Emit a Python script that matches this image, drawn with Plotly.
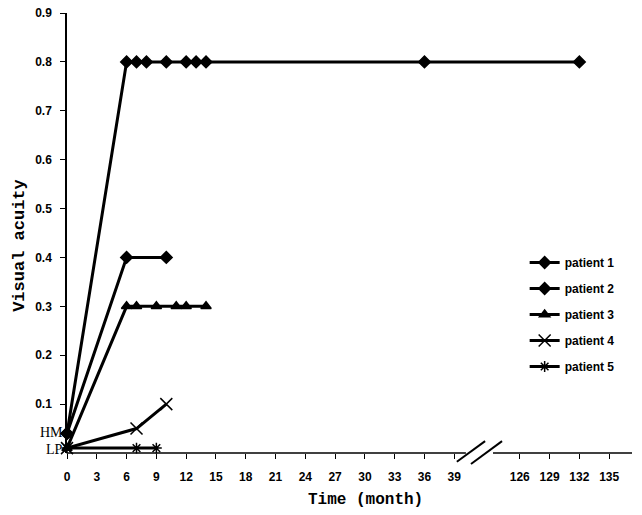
import plotly.graph_objects as go

# visual acuity per patient
# HM (hand motion) and LP (light perception) sit under 0.1 on the y axis
HM = 0.04
LP = 0.01

patients = ["patient 1", "patient 2", "patient 3", "patient 4", "patient 5"]

months_p1 = [0, 6, 7, 8, 10, 12, 13, 14, 36, 132]
va_p1 = [HM, 0.8, 0.8, 0.8, 0.8, 0.8, 0.8, 0.8, 0.8, 0.8]

months_p2 = [0, 6, 10]
va_p2 = [HM, 0.4, 0.4]

months_p3 = [0, 6, 7, 9, 11, 12, 14]
va_p3 = [LP, 0.3, 0.3, 0.3, 0.3, 0.3, 0.3]

months_p4 = [0, 7, 10]
va_p4 = [LP, 0.05, 0.1]

months_p5 = [0, 7, 9]
va_p5 = [LP, LP, LP]

tick_months = [0, 3, 6, 9, 12, 15, 18, 21, 24, 27, 30, 33, 36, 39, 126, 129, 132, 135]
y_ticks = [0.1, 0.2, 0.3, 0.4, 0.5, 0.6, 0.7, 0.8, 0.9]

# broken x axis: everything past 40 months is pulled left
BREAK_AT = 40
SHIFT = 80.4


def axis_x(months):
    return [m if m <= BREAK_AT else m - SHIFT for m in months]


series = [
    (months_p1, va_p1, "diamond", 9),
    (months_p2, va_p2, "diamond", 9),
    (months_p3, va_p3, "triangle-up", 9),
    (months_p4, va_p4, "x-thin-open", 12),
    (months_p5, va_p5, "asterisk-open", 9),
]

fig = go.Figure()
for name, (mx, my, sym, size) in zip(patients, series):
    fig.add_trace(go.Scatter(
        x=axis_x(mx), y=my, name=name, mode="lines+markers",
        line=dict(color="black", width=3),
        marker=dict(symbol=sym, size=size, color="black",
                    line=dict(color="black", width=1.5)),
        cliponaxis=False, legendgroup=name,
    ))

tick_font = dict(family="Liberation Sans", size=12, color="black", weight="bold")

fig.update_xaxes(
    range=[0, 56.9], tickvals=axis_x(tick_months), ticktext=[str(t) for t in tick_months],
    showline=False, showgrid=False, zeroline=False, automargin=False,
    ticks="outside", ticklen=5, tickcolor="black", tickwidth=1.2,
    tickfont=tick_font, ticklabelstandoff=8,
)
fig.update_yaxes(
    range=[0, 0.9], tickvals=y_ticks, ticktext=[f"{v:.1f}" for v in y_ticks],
    showline=True, linecolor="black", linewidth=1.5, automargin=False,
    showgrid=False, zeroline=False,
    ticks="outside", ticklen=5, tickcolor="black", tickwidth=1.2,
    tickfont=tick_font, ticklabelstandoff=6,
)

# x axis line drawn in two pieces with the break marks
axis_style = dict(color="black", width=1.5)
fig.add_shape(type="line", xref="paper", yref="paper", x0=0, x1=0.706, y0=0, y1=0, line=axis_style)
fig.add_shape(type="line", xref="paper", yref="paper", x0=0.754, x1=1, y0=0, y1=0, line=axis_style)
fig.add_shape(type="line", xref="paper", yref="paper", x0=0.690, x1=0.740, y0=-0.02, y1=0.027,
              line=dict(color="black", width=2))
fig.add_shape(type="line", xref="paper", yref="paper", x0=0.715, x1=0.770, y0=-0.025, y1=0.027,
              line=dict(color="black", width=2))

for label, val, shift in [("HM", HM, 1), ("LP", LP, -1)]:
    fig.add_annotation(
        text=label, xref="paper", yref="y", x=0, y=val, xanchor="right", yanchor="middle",
        xshift=-2, yshift=shift, showarrow=False,
        font=dict(family="Liberation Serif", size=14, color="black"),
    )

fig.add_annotation(
    text="Time (month)", xref="paper", yref="paper", x=0.529, y=-0.107,
    xanchor="center", yanchor="middle", showarrow=False,
    font=dict(family="Liberation Mono", size=16, color="black", weight="bold"),
)
fig.add_annotation(
    text="Visual acuity", xref="paper", yref="paper", x=-0.083, y=0.471,
    xanchor="center", yanchor="middle", textangle=-90, showarrow=False,
    font=dict(family="Liberation Mono", size=17, color="black", weight="bold"),
)

fig.update_layout(
    width=642, height=515,
    margin=dict(l=67, r=10, t=13, b=62),
    plot_bgcolor="white", paper_bgcolor="white",
    legend=dict(
        x=0.81, y=(453 - 248) / 440, xanchor="left", yanchor="top",
        font=dict(family="Liberation Sans", size=12, color="black", weight="bold"),
        tracegroupgap=7, bgcolor="rgba(0,0,0,0)",
    ),
)

# the page's default body margin would push the figure 8px down and right
fig.write_html("out.html", config={"displayModeBar": False},
               post_script="document.body.style.margin = '0px';")
